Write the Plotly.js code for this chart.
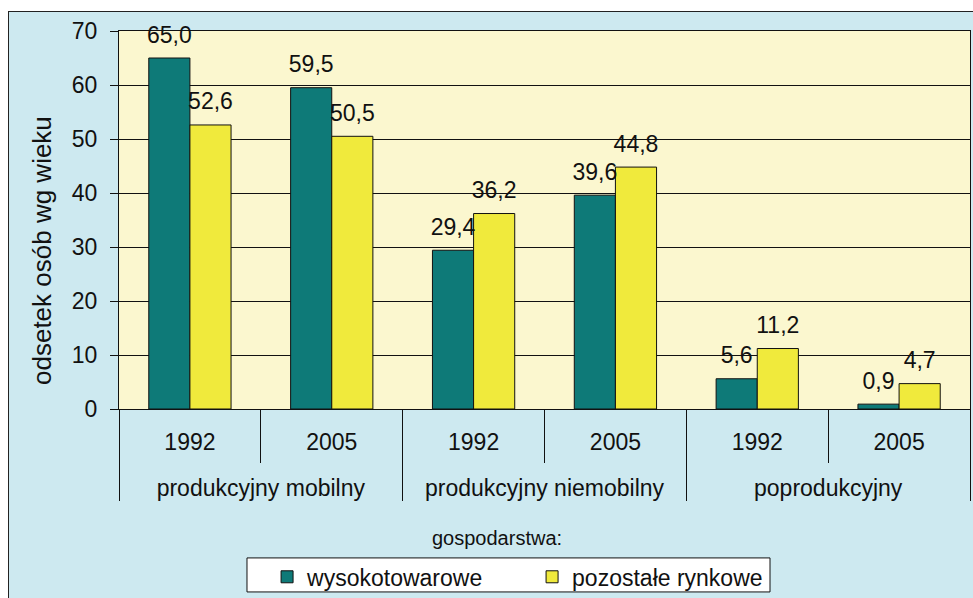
<!DOCTYPE html>
<html>
<head>
<meta charset="utf-8">
<script src="https://cdn.plot.ly/plotly-3.0.1.min.js"></script>
<style>
  html, body { margin: 0; padding: 0; background: #ffffff; overflow: hidden; width: 973px; height: 598px; }
  #wrap { position: absolute; left: 8px; top: 11px; border-left: 1px solid #222; border-top: 1px solid #222; background: #CDE9F0; }
  #chart { width: 980px; height: 600px; }
</style>
</head>
<body>
<div id="wrap"><div id="chart"></div></div>
<script>
// ---- data ----
const groups = ['produkcyjny mobilny', 'produkcyjny mobilny',
                'produkcyjny niemobilny', 'produkcyjny niemobilny',
                'poprodukcyjny', 'poprodukcyjny'];
const years = ['1992', '2005', '1992', '2005', '1992', '2005'];
const seriesNames = ['wysokotowarowe', 'pozostałe rynkowe'];
const wysokotowarowe = [65.0, 59.5, 29.4, 39.6, 5.6, 0.9];
const pozostaleRynkowe = [52.6, 50.5, 36.2, 44.8, 11.2, 4.7];
const yTitle = 'odsetek osób wg wieku';
const xNote = 'gospodarstwa:';

const FONT = 'Liberation Sans, Arial, sans-serif';
// outer labels get an empty first line so they sit lower, like the original
const groupLabels = groups.map(g => '<br>' + g);
const xCats = [groupLabels, years];

function barTrace(name, vals, color, og) {
  return {
    type: 'bar', name: name, x: xCats, y: vals, offsetgroup: og,
    marker: { color: color, line: { color: '#111', width: 1 } },
    hoverinfo: 'skip'
  };
}
function labelTrace(vals, og) {
  return {
    type: 'scatter', mode: 'markers+text', x: xCats, y: vals, offsetgroup: og,
    marker: { size: 14, opacity: 0, color: '#000' },
    texttemplate: '%{y:.1f}', textposition: 'top center',
    textfont: { family: FONT, size: 23, color: '#111' },
    cliponaxis: false, showlegend: false, hoverinfo: 'skip'
  };
}

const data = [
  barTrace(seriesNames[0], wysokotowarowe, '#0E7A78', 'a'),
  barTrace(seriesNames[1], pozostaleRynkowe, '#F0EA3C', 'b'),
  labelTrace(wysokotowarowe, 'a'),
  labelTrace(pozostaleRynkowe, 'b')
];

const layout = {
  width: 980, height: 600,
  margin: { l: 110, r: 19, t: 19, b: 203 },
  paper_bgcolor: '#CDE9F0',
  plot_bgcolor: '#FBF7CF',
  separators: ', ',
  font: { family: FONT, color: '#111', size: 23 },
  barmode: 'group',
  bargap: 0.42,
  bargroupgap: 0,
  scattermode: 'group',
  scattergap: 0.42,
  showlegend: true,
  xaxis: {
    type: 'multicategory',
    showdividers: true,
    dividercolor: '#111',
    dividerwidth: 1,
    ticks: 'outside',
    tickson: 'boundaries',
    ticklen: 53,
    tickcolor: '#111',
    tickwidth: 1,
    ticklabelstandoff: 12,
    showline: true, linecolor: '#111', linewidth: 1, mirror: true,
    showgrid: false,
    tickfont: { family: FONT, size: 23, color: '#111' }
  },
  yaxis: {
    range: [0, 70],
    dtick: 10,
    showgrid: true, gridcolor: '#111', gridwidth: 1,
    zeroline: false,
    ticks: 'outside', ticklen: 8, tickcolor: '#111',
    ticklabelstandoff: 8,
    showline: true, linecolor: '#111', linewidth: 1, mirror: true,
    tickfont: { family: FONT, size: 23, color: '#111' }
  },
  legend: {
    orientation: 'h',
    x: 0.174, xanchor: 'left',
    y: -0.444, yanchor: 'middle',
    bgcolor: 'rgba(0,0,0,0)',
    borderwidth: 0,
    font: { family: FONT, size: 23, color: '#111' },
    entrywidth: 220,
    traceorder: 'normal'
  },
  shapes: [{
    type: 'rect', xref: 'paper', yref: 'paper',
    x0: 0.1504, x1: 0.765, y0: -0.394, y1: -0.484,
    fillcolor: '#ffffff', line: { color: '#111', width: 1 }, layer: 'above'
  }],
  annotations: [{
    text: xNote, xref: 'paper', yref: 'paper',
    x: 0.444, y: -0.341, xanchor: 'center', yanchor: 'middle',
    showarrow: false,
    font: { family: FONT, size: 20, color: '#111' }
  }, {
    text: yTitle, xref: 'paper', yref: 'paper', textangle: -90,
    x: -0.0905, y: 0.4206, xanchor: 'center', yanchor: 'middle',
    showarrow: false,
    font: { family: FONT, size: 26, color: '#111' }
  }]
};

Plotly.newPlot('chart', data, layout, { displayModeBar: false, staticPlot: true });
</script>
</body>
</html>
